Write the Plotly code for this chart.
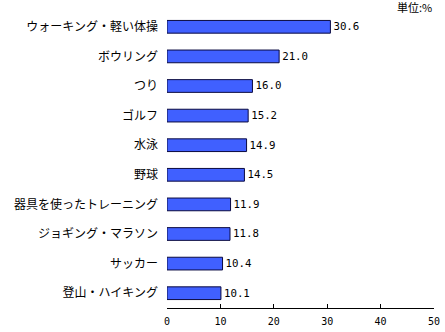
import plotly.graph_objects as go

categories = ["ウォーキング・軽い体操", "ボウリング", "つり", "ゴルフ", "水泳", "野球",
              "器具を使ったトレーニング", "ジョギング・マラソン", "サッカー", "登山・ハイキング"]
values = [30.6, 21.0, 16.0, 15.2, 14.9, 14.5, 11.9, 11.8, 10.4, 10.1]
x_ticks = [0, 10, 20, 30, 40, 50]

FONT = "Noto Sans CJK JP"

fig = go.Figure(go.Bar(
    x=values,
    y=categories,
    orientation="h",
    width=0.43,
    marker=dict(color="#4060FF", line=dict(color="#0A0A40", width=1)),
    text=[f"{v:.1f}" for v in values],
    textposition="outside",
    textfont=dict(family="DejaVu Sans Mono", size=11, color="#000000"),
    cliponaxis=False,
))

fig.update_layout(
    width=445, height=332,
    margin=dict(l=167, r=11, t=12, b=24),
    paper_bgcolor="white", plot_bgcolor="white",
    showlegend=False,
    font=dict(family=FONT, color="#000000"),
    xaxis=dict(range=[0, 50], tickvals=x_ticks, showgrid=False, zeroline=False,
               showline=True, linecolor="#000000", linewidth=1,
               ticks="inside", ticklen=4, tickcolor="#000000",
               ticklabelstandoff=4, automargin=False,
               tickfont=dict(family="DejaVu Sans Mono", size=10)),
    yaxis=dict(autorange="reversed", showgrid=False, zeroline=False, showline=False,
               ticks="", ticklabelstandoff=8, automargin=False,
               tickfont=dict(family=FONT, size=12)),
    annotations=[dict(text="単位:%", xref="paper", yref="paper", x=1.0, y=1.0,
                      xanchor="right", yanchor="bottom", yshift=-5, showarrow=False,
                      font=dict(family=FONT, size=11))],
)

fig.write_html("out.html")
